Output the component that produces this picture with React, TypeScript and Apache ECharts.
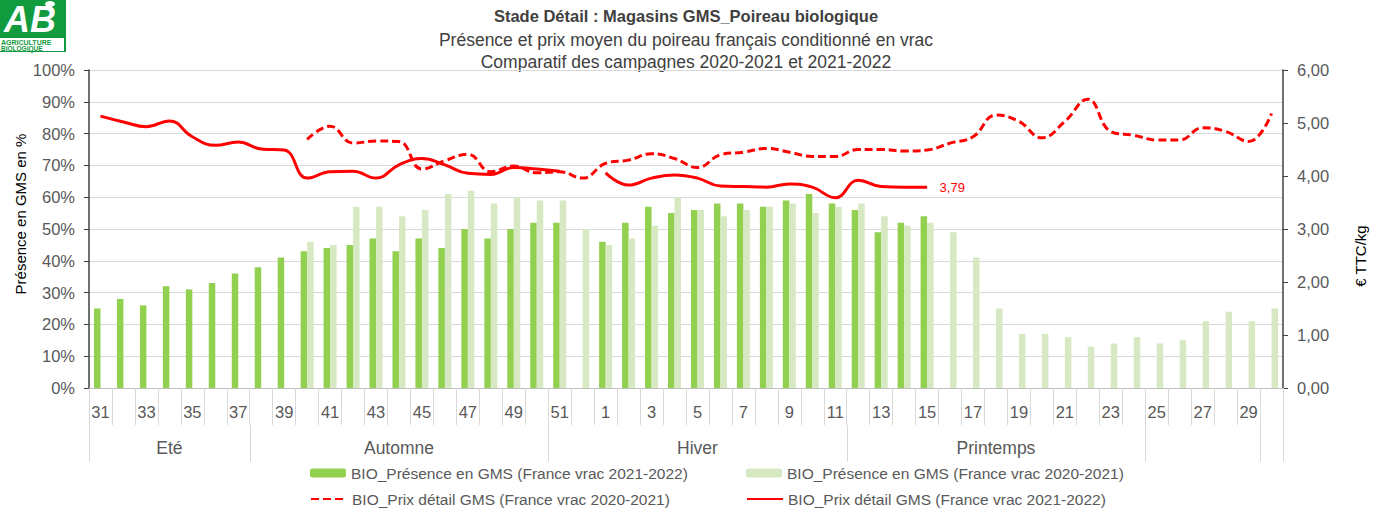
import React, { useEffect, useRef } from "react";
import * as echarts from "echarts";

const weeks = [
  "31", "32", "33", "34", "35", "36", "37", "38", "39", "40", "41", "42", "43", "44", "45", "46", "47", "48", "49", "50", "51", "52",
  "1", "2", "3", "4", "5", "6", "7", "8", "9", "10", "11", "12", "13", "14", "15", "16", "17", "18", "19", "20",
  "21", "22", "23", "24", "25", "26", "27", "28", "29", "30",
];

const seasonNames = ["Eté", "Automne", "Hiver", "Printemps", "", ""];
const seasonStarts = [0, 7, 20, 33, 46, 51];

const presence2122 = [
  25, 28, 26, 32, 31, 33, 36, 38, 41, 43, 44, 45, 47, 43, 47, 44, 50, 47, 50, 52, 52, null,
  46, 52, 57, 55, 56, 58, 58, 57, 59, 61, 58, 56, 49, 52, 54,
  null, null, null, null, null, null, null, null, null, null, null, null, null, null, null,
];

const presence2021 = [
  null, null, null, null, null, null, null, null, null,
  46, 45, 57, 57, 54, 56, 61, 62, 58, 60, 59, 59, 50,
  45, 47, 51, 60, 56, 54, 56, 57, 58, 55, 57, 58, 54, 51, 52, 49, 41, 25, 17, 17,
  16, 13, 14, 16, 14, 15, 21, 24, 21, 25,
];

const price2122 = [
  5.13, 5.02, 4.93, 5.04, 4.74, 4.58, 4.64, 4.51, 4.49, 3.96, 4.08, 4.09, 3.96, 4.21, 4.33, 4.21, 4.05, 4.03, 4.16, 4.13, 4.09, null,
  4.06, 3.83, 3.96, 4.02, 3.96, 3.81, 3.8, 3.79, 3.85, 3.79, 3.59, 3.92, 3.8, 3.79, 3.79,
  null, null, null, null, null, null, null, null, null, null, null, null, null, null, null,
];

const price2021 = [
  null, null, null, null, null, null, null, null, null,
  4.69, 4.94, 4.62, 4.66, 4.65, 4.13, 4.29, 4.41, 4.08, 4.19, 4.06, 4.08, 3.96,
  4.24, 4.3, 4.42, 4.33, 4.16, 4.4, 4.45, 4.52, 4.45, 4.37, 4.37, 4.5, 4.5, 4.47, 4.49, 4.62, 4.74, 5.15, 5.03, 4.72,
  5.03, 5.45, 4.84, 4.77, 4.68, 4.68, 4.91, 4.84, 4.65, 5.18,
];

const titleLines = [
  "Stade Détail : Magasins GMS_Poireau biologique",
  "Présence et prix moyen du poireau français conditionné en vrac",
  "Comparatif des campagnes 2020-2021 et 2021-2022",
];

const S_BAR_2122 = "BIO_Présence en GMS (France vrac 2021-2022)";
const S_BAR_2021 = "BIO_Présence en GMS (France vrac 2020-2021)";
const S_PRICE_2021 = "BIO_Prix détail GMS (France vrac 2020-2021)";
const S_PRICE_2122 = "BIO_Prix détail GMS (France vrac 2021-2022)";

const FONT = '"Liberation Sans", Arial, sans-serif';
const GREY = "#595959";
const GREEN_LOGO = "#119a3e";
const TICK_ROW = 37;

export default function App() {
  const ref = useRef<HTMLDivElement>(null);

  useEffect(() => {
    if (!ref.current) return;
    const chart = echarts.init(ref.current, null, { renderer: "svg" });

    const seasonAxisData = weeks.map((_, i) => {
      for (let s = 0; s < seasonStarts.length; s++) {
        const start = seasonStarts[s];
        const end = s + 1 < seasonStarts.length ? seasonStarts[s + 1] - 1 : weeks.length - 1;
        if (i === Math.floor((start + end) / 2)) return seasonNames[s];
      }
      return "";
    });

    let lastIdx = -1;
    price2122.forEach((v, i) => {
      if (v != null) lastIdx = i;
    });
    const lastVal = price2122[lastIdx] as number;

    const legendBase = {
      orient: "horizontal",
      padding: 0,
      itemWidth: 36,
      itemHeight: 9,
      itemGap: 5,
      textStyle: { color: GREY, fontSize: 15.5, fontFamily: FONT, lineHeight: 18 },
    };
    const hiddenSymbol = { color: "rgba(0,0,0,0)", borderColor: "rgba(0,0,0,0)", borderWidth: 0, opacity: 0 };

    const baseGraphics: any[] = [
      // AB logo
      { type: "rect", shape: { x: 0, y: 0, width: 66, height: 52 }, style: { fill: GREEN_LOGO } },
      { type: "rect", shape: { x: 0, y: 38, width: 64, height: 13 }, style: { fill: "#ffffff" } },
      {
        type: "text",
        x: 4,
        y: 1,
        style: { text: "AB", fill: "#ffffff", font: 'italic bold 36px "Liberation Sans", Arial, sans-serif' },
      },
      { type: "ellipse", shape: { cx: 50, cy: 4, rx: 5, ry: 3 }, style: { fill: "#ffffff" } },
      {
        type: "text",
        x: 1,
        y: 38.5,
        style: { text: "AGRICULTURE", fill: GREEN_LOGO, font: 'bold 7px "Liberation Sans", Arial, sans-serif' },
      },
      {
        type: "text",
        x: 1,
        y: 45,
        style: { text: "BIOLOGIQUE", fill: GREEN_LOGO, font: 'bold 6.5px "Liberation Sans", Arial, sans-serif' },
      },
      // Titles
      {
        type: "text",
        x: 686,
        y: 16,
        style: {
          text: titleLines[0],
          fill: "#404040",
          font: 'bold 16.5px "Liberation Sans", Arial, sans-serif',
          textAlign: "center",
          textVerticalAlign: "middle",
        },
      },
      {
        type: "text",
        x: 686,
        y: 40,
        style: {
          text: titleLines[1],
          fill: "#404040",
          font: '17.5px "Liberation Sans", Arial, sans-serif',
          textAlign: "center",
          textVerticalAlign: "middle",
        },
      },
      {
        type: "text",
        x: 686,
        y: 62,
        style: {
          text: titleLines[2],
          fill: "#404040",
          font: '17.5px "Liberation Sans", Arial, sans-serif',
          textAlign: "center",
          textVerticalAlign: "middle",
        },
      },
      // Axis names
      {
        type: "text",
        x: 20,
        y: 214,
        rotation: Math.PI / 2,
        style: {
          text: "Présence en GMS en %",
          fill: "#000000",
          font: '15px "Liberation Sans", Arial, sans-serif',
          textAlign: "center",
          textVerticalAlign: "middle",
        },
      },
      {
        type: "text",
        x: 1360,
        y: 256,
        rotation: Math.PI / 2,
        style: {
          text: "€ TTC/kg",
          fill: "#000000",
          font: '15px "Liberation Sans", Arial, sans-serif',
          textAlign: "center",
          textVerticalAlign: "middle",
        },
      },
    ];

    const option: any = {
      animation: false,
      textStyle: { fontFamily: FONT },
      grid: { left: 89, right: 97, top: 70, bottom: 123 },
      legend: [
        { ...legendBase, left: 310, top: 464, data: [S_BAR_2122] },
        { ...legendBase, left: 746, top: 464, data: [S_BAR_2021] },
        { ...legendBase, left: 310, top: 490, data: [S_PRICE_2021], itemStyle: hiddenSymbol },
        { ...legendBase, left: 746, top: 490, data: [S_PRICE_2122], itemStyle: hiddenSymbol },
      ],
      xAxis: [
        {
          type: "category",
          data: weeks,
          boundaryGap: true,
          axisLine: { show: true, lineStyle: { color: "#bfbfbf", width: 1 } },
          axisTick: { show: true, interval: 0, length: TICK_ROW, lineStyle: { color: "#d9d9d9" } },
          axisLabel: { interval: 1, color: GREY, fontSize: 16.5, fontFamily: FONT, margin: 15 },
          splitLine: { show: false },
        },
        {
          type: "category",
          data: seasonAxisData,
          position: "bottom",
          offset: TICK_ROW,
          boundaryGap: true,
          axisLine: { show: false },
          axisTick: { show: false },
          axisLabel: { interval: 0, color: GREY, fontSize: 17.5, fontFamily: FONT, margin: 14 },
          splitLine: { show: false },
        },
      ],
      yAxis: [
        {
          type: "value",
          min: 0,
          max: 100,
          interval: 10,
          axisLine: { show: true, lineStyle: { color: "#404040", width: 1.5 } },
          axisTick: { show: true, inside: false, length: 5, lineStyle: { color: "#404040" } },
          axisLabel: { color: GREY, fontSize: 16.5, fontFamily: FONT, margin: 14, formatter: "{value}%" },
          splitLine: { show: true, lineStyle: { color: "#d9d9d9", width: 1 } },
        },
        {
          type: "value",
          min: 0,
          max: 6,
          interval: 1,
          position: "right",
          axisLine: { show: true, lineStyle: { color: "#404040", width: 1.5 } },
          axisTick: { show: true, inside: false, length: 5, lineStyle: { color: "#404040" } },
          axisLabel: {
            color: GREY,
            fontSize: 16.5,
            fontFamily: FONT,
            margin: 14,
            formatter: (v: number) => v.toFixed(2).replace(".", ","),
          },
          splitLine: { show: false },
        },
      ],
      series: [
        {
          name: S_BAR_2122,
          type: "bar",
          xAxisIndex: 0,
          yAxisIndex: 0,
          data: presence2122,
          barWidth: 6.5,
          barGap: "0%",
          itemStyle: { color: "#92d050" },
          z: 2,
        },
        {
          name: S_BAR_2021,
          type: "bar",
          xAxisIndex: 0,
          yAxisIndex: 0,
          data: presence2021,
          barWidth: 6.5,
          barGap: "0%",
          itemStyle: { color: "#d6e9c2" },
          z: 2,
        },
        {
          name: S_PRICE_2021,
          type: "line",
          xAxisIndex: 0,
          yAxisIndex: 1,
          data: price2021,
          smooth: 0.45,
          symbol: "none",
          connectNulls: false,
          lineStyle: { color: "#ff0000", width: 3, type: [8, 4] },
          itemStyle: { color: "#ff0000" },
          z: 4,
        },
        {
          name: S_PRICE_2122,
          type: "line",
          xAxisIndex: 0,
          yAxisIndex: 1,
          data: price2122,
          smooth: 0.45,
          symbol: "none",
          connectNulls: false,
          lineStyle: { color: "#ff0000", width: 3 },
          itemStyle: { color: "#ff0000" },
          z: 5,
          markPoint: {
            symbol: "circle",
            symbolSize: 1,
            itemStyle: { color: "rgba(0,0,0,0)" },
            label: {
              show: true,
              position: "right",
              distance: 12,
              color: "#ff0000",
              fontSize: 13,
              fontFamily: FONT,
              formatter: () => lastVal.toFixed(2).replace(".", ","),
            },
            data: [{ coord: [lastIdx, lastVal], value: lastVal }],
          },
        },
      ],
      graphic: baseGraphics,
    };

    chart.setOption(option);

    // Season separators on the second category row, positioned through the axis scale
    const c0 = chart.convertToPixel({ xAxisIndex: 0 }, 0) as number;
    const c1 = chart.convertToPixel({ xAxisIndex: 0 }, 1) as number;
    const band = c1 - c0;
    const yBase = chart.convertToPixel({ yAxisIndex: 0 }, 0) as number;
    const boundaries = [...seasonStarts, weeks.length];
    const separators = boundaries.map((s) => {
      const x = Math.round(c0 + (s - 0.5) * band) + 0.5;
      return {
        type: "line",
        shape: { x1: x, y1: yBase + TICK_ROW, x2: x, y2: yBase + 2 * TICK_ROW },
        style: { stroke: "#d9d9d9", lineWidth: 1 },
        silent: true,
      };
    });
    chart.setOption({ graphic: [...baseGraphics, ...separators] });

    return () => chart.dispose();
  }, []);

  return (
    <div
      ref={ref}
      style={{ position: "fixed", left: 0, top: 0, width: 1380, height: 511, background: "#ffffff" }}
    />
  );
}
